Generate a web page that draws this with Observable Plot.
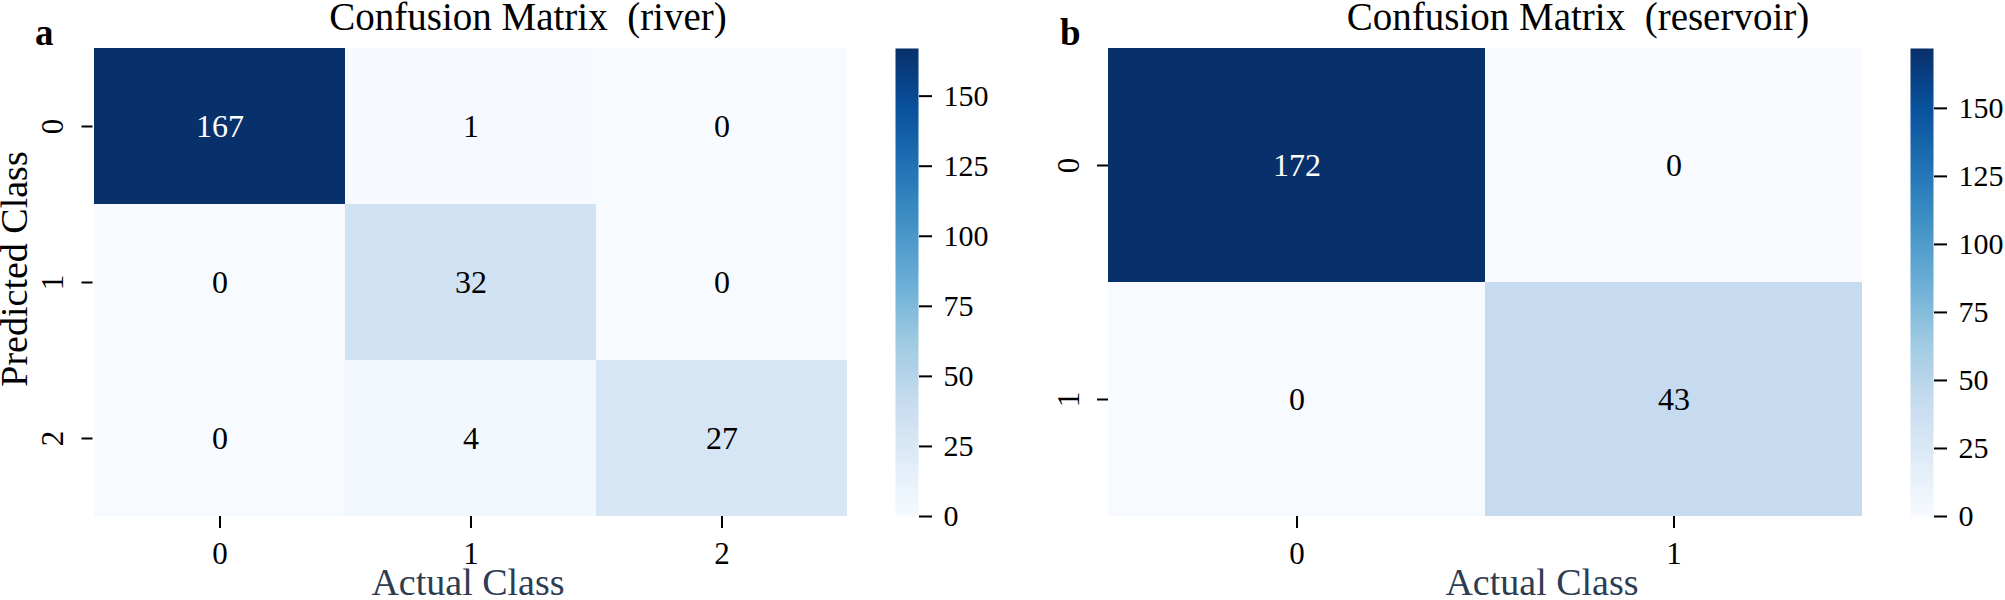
<!DOCTYPE html>
<html><head><meta charset="utf-8">
<script src="https://cdn.jsdelivr.net/npm/d3@7"></script>
<script src="https://cdn.jsdelivr.net/npm/@observablehq/plot@0.6"></script>
<style>
body{margin:0;background:#fff;}
#wrap{position:relative;width:2005px;height:600px;overflow:hidden;background:#fff;}
#wrap > svg{position:absolute;top:0;}
#wrap svg, #wrap svg text{font-family:"Liberation Serif","Times New Roman",serif !important;}
</style></head><body><div id="wrap"></div>
<script>
// ---- data ----
const riverClasses = ["0", "1", "2"];
const riverCounts = [   // rows: predicted, columns: actual
  [167, 1, 0],
  [0, 32, 0],
  [0, 4, 27]
];
const reservoirClasses = ["0", "1"];
const reservoirCounts = [
  [172, 0],
  [0, 43]
];
const colorbarTicks = [0, 25, 50, 75, 100, 125, 150];
const panelTitles = ["Confusion Matrix  (river)", "Confusion Matrix  (reservoir)"];
const panelLetters = ["a", "b"];
const xLabel = "Actual Class";
const yLabel = "Predicted Class";
const blues9 = ["#f7fbff","#deebf7","#c6dbef","#9ecae1","#6baed6","#4292c6","#2171b5","#08519c","#08306b"];

const FONT = "'Liberation Serif', 'Times New Roman', serif";
const wrap = document.getElementById("wrap");

function colorOpts(min, max) {
  return {type: "linear", domain: blues9.map((_, i) => min + (max - min) * i / 8), range: blues9, interpolate: "rgb"};
}

function panel(classes, counts, o) {
  const table = classes.flatMap((p, i) => classes.map((a, j) => ({pred: p, actual: a, value: counts[i][j]})));
  const min = d3.min(table, d => d.value), max = d3.max(table, d => d.value);
  const lum = d3.scaleLinear().domain(colorOpts(min, max).domain).range(blues9).interpolate(d3.interpolateRgb);
  const textColor = v => {
    const c = d3.rgb(lum(v));
    const f = x => { x /= 255; return x <= 0.03928 ? x / 12.92 : Math.pow((x + 0.055) / 1.055, 2.4); };
    const L = 0.2126 * f(c.r) + 0.7152 * f(c.g) + 0.0722 * f(c.b);
    return L > 0.408 ? "black" : "white";
  };
  const heat = Plot.plot({
    width: o.width, height: 600,
    marginLeft: o.ml, marginRight: o.mr, marginTop: 48, marginBottom: 84,
    style: {fontFamily: FONT, background: "transparent", color: "black"},
    x: {domain: classes, padding: 0, axis: null},
    y: {domain: classes, padding: 0, axis: null},
    color: colorOpts(min, max),
    marks: [
      Plot.cell(table, {x: "actual", y: "pred", fill: "value", inset: 0}),
      Plot.text(table, {x: "actual", y: "pred", text: d => String(d.value), fill: d => textColor(d.value), fontSize: 32}),
      Plot.axisX({domain: classes, tickSize: 12, tickPadding: 13, fontSize: 31, strokeWidth: 2, label: null}),
      Plot.axisY({tickSize: 11, tickFormat: () => "", strokeWidth: 2, label: null}),
      Plot.text(classes, {y: d => d, text: d => d, frameAnchor: "left", dx: -30, rotate: -90, textAnchor: "middle", lineAnchor: "bottom", fontSize: 31, fill: "black"})
    ]
  });
  heat.style.left = o.left + "px";
  wrap.appendChild(heat);

  const bar = Plot.plot({
    width: o.cbWidth, height: 600,
    marginLeft: 0, marginRight: o.cbWidth - 23, marginTop: 48, marginBottom: 84,
    style: {fontFamily: FONT, background: "transparent", color: "black"},
    x: {domain: [0, 1], axis: null},
    y: {domain: [min, max], axis: null},
    color: colorOpts(min, max),
    marks: [
      Plot.raster({x1: 0, x2: 1, y1: min, y2: max, width: 1, height: 468, fill: (x, y) => y}),
      Plot.axisY({anchor: "right", ticks: colorbarTicks, tickSize: 13, tickPadding: 12, fontSize: 30, strokeWidth: 2, label: null})
    ]
  });
  bar.style.left = o.cbLeft + "px";
  wrap.appendChild(bar);
}

panel(riverClasses, riverCounts, {left: 0, width: 870, ml: 92.5, mr: 22, cbLeft: 895, cbWidth: 105});
panel(reservoirClasses, reservoirCounts, {left: 1000, width: 880, ml: 108, mr: 18, cbLeft: 1910, cbWidth: 95});

// ---- titles and labels ----
const ov = d3.select(wrap).append("svg")
  .attr("width", 2005).attr("height", 600)
  .style("position", "absolute").style("left", "0px").style("top", "0px")
  .style("pointer-events", "none");

const titleX = [528, 1578];
const xLabelX = [468, 1542];
const letterX = [35, 1060];
panelTitles.forEach((t, i) => {
  ov.append("text").attr("x", titleX[i]).attr("y", 30).attr("text-anchor", "middle")
    .attr("font-size", 39).style("white-space", "pre").attr("fill", "black").text(t);
  ov.append("text").attr("x", xLabelX[i]).attr("y", 595).attr("text-anchor", "middle")
    .attr("font-size", 38).attr("fill", "#2d3c52").text(xLabel);
  ov.append("text").attr("x", letterX[i]).attr("y", 45)
    .attr("font-size", 37).attr("font-weight", "bold").attr("fill", "black").text(panelLetters[i]);
});
ov.append("text").attr("transform", "translate(27,269) rotate(-90)").attr("text-anchor", "middle")
  .attr("font-size", 38).attr("fill", "black").text(yLabel);
</script></body></html>
